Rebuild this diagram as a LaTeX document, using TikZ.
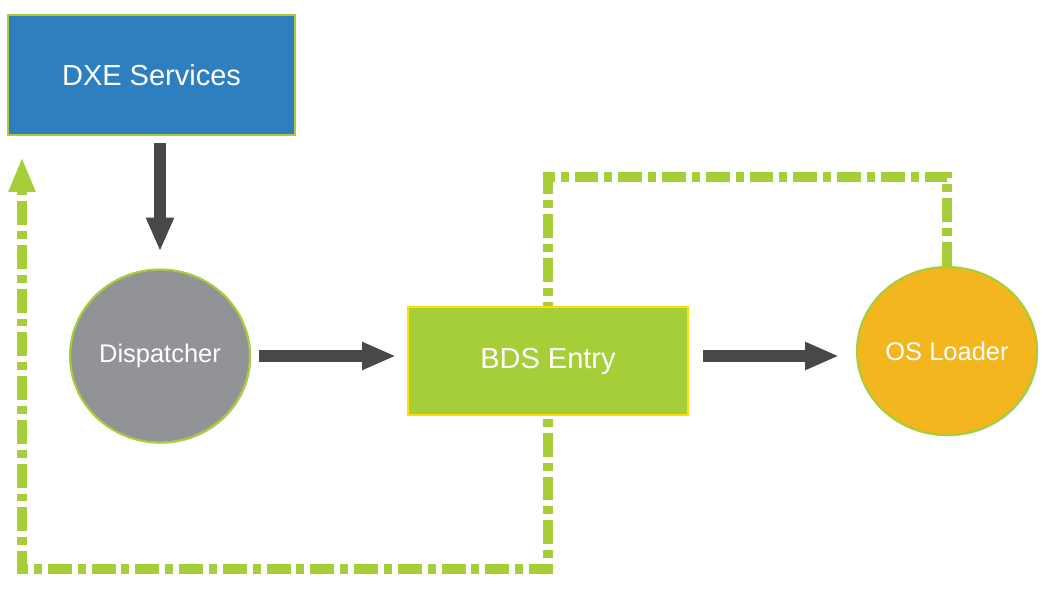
\documentclass[tikz,border=0pt]{standalone}
\usepackage{fontspec}
\setmainfont{Liberation Sans}
\usetikzlibrary{arrows.meta,shapes.geometric,shadows,backgrounds}

\definecolor{dxeblue}{HTML}{2E7FC0}
\definecolor{limegreen}{HTML}{A6CE39}
\definecolor{dispgray}{HTML}{929397}
\definecolor{bdsyellow}{HTML}{FFDD00}
\definecolor{loaderorange}{HTML}{F3B61F}
\definecolor{arrowgray}{HTML}{484848}

\tikzset{
  softshadow/.style={drop shadow={shadow xshift=0.7pt,shadow yshift=-0.7pt,opacity=0.3,fill=black!70}},
  flowbox/.style={rectangle,line width=1.2pt,text=white,inner sep=0pt,softshadow},
  flowdisc/.style={ellipse,draw=limegreen,line width=1.2pt,text=white,inner sep=0pt,softshadow},
  thickarrow/.style={draw=arrowgray,line width=6.8pt,-{Triangle[width=14.7pt,length=19.3pt]}},
  loopline/.style={draw=limegreen,line width=6.2pt,line join=miter,
    dash pattern=on 13.6pt off 3.4pt on 4.5pt off 3.4pt,
    -{Triangle[width=14pt,length=19.8pt]}}
}

\begin{document}
\begin{tikzpicture}[x=0.02cm,y=-0.02cm]
\useasboundingbox (0,0) rectangle (1045,591);

% Boxes and discs
\node[flowbox,draw=limegreen,fill=dxeblue,minimum width=5.74cm,minimum height=2.4cm,font=\fontsize{16.5}{19}\selectfont] (dxe) at (151.5,75) {DXE Services};
\node[flowdisc,fill=dispgray,minimum width=3.6cm,minimum height=3.46cm,font=\fontsize{14.5}{17}\selectfont] (disp) at (160,356) {Dispatcher};
\node[flowbox,draw=bdsyellow,fill=limegreen,minimum width=5.6cm,minimum height=2.16cm,font=\fontsize{16.5}{19}\selectfont] (bds) at (548,361) {BDS Entry};
\node[flowdisc,fill=loaderorange,minimum width=3.6cm,minimum height=3.36cm,font=\fontsize{14.5}{17}\selectfont] (osl) at (947,351) {OS Loader};

% Flow arrows
\draw[thickarrow,shorten <=0.14cm,shorten >=0.34cm] (disp.north |- dxe.south) -- (disp.north);
\draw[thickarrow,shorten <=0.16cm,shorten >=0.22cm] (disp.east) -- (disp.east -| bds.west);
\draw[thickarrow,shorten <=0.28cm,shorten >=0.34cm] (bds.east |- disp.east) -- (osl.west |- disp.east);

% Return loop
\coordinate (loopTR) at (943,177);
\coordinate (loopBL) at (22,569);
\coordinate (loopEnd) at (22,157);
\begin{pgfonlayer}{background}
\fill[white] (0,0) rectangle (1045,591);
\draw[loopline] (osl.north) -- (osl.north |- loopTR) -| (bds.center) -- (bds.center |- loopBL) -| (loopEnd);
\end{pgfonlayer}

\end{tikzpicture}
\end{document}
